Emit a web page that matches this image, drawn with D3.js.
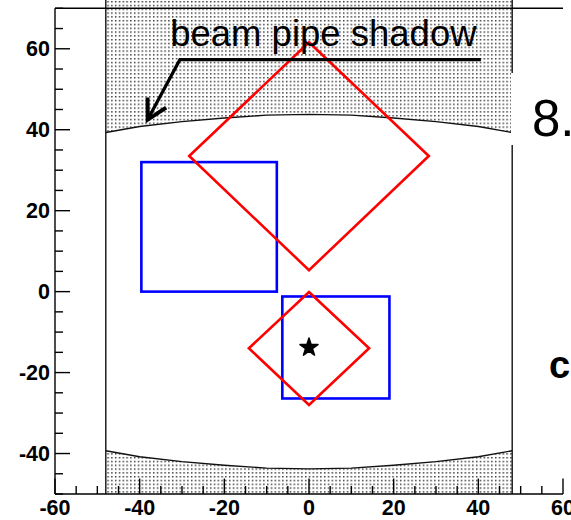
<!DOCTYPE html>
<html>
<head>
<meta charset="utf-8">
<script src="https://cdn.jsdelivr.net/npm/d3@7"></script>
<style>
  body { margin: 0; background: #fff; }
  svg { display: block; }
</style>
</head>
<body>
<svg id="chart" width="571" height="520"></svg>
<script>
// axis ticks and labels
var xLabels = [-60, -40, -20, 0, 20, 40, 60];
var yLabels = [-40, -20, 0, 20, 40, 60];

// beam pipe shadow outline
var shadowX = [-48, -40, -30, -20, -10, 0, 10, 20, 30, 40, 48];
var shadowTopY = [39.3, 40.8, 42.0, 42.9, 43.6, 43.8, 43.6, 42.9, 42.0, 40.8, 39.3];
var shadowBottomY = [-39.3, -40.8, -42.0, -42.9, -43.6, -43.8, -43.6, -42.9, -42.0, -40.8, -39.3];
var pipeEdges = [-48, 48];

// blue boxes: [x0, x1, y0, y1]
var blueBoxes = [[-39.6, -7.6, 0, 32], [-6.3, 19, -26.4, -1.2]];

// red diamonds: vertices
var redDiamonds = [
    [[0, 61.6], [28.3, 33.5], [0, 5.3], [-28.3, 33.5]],
    [[0, -0.1], [14.2, -14], [0, -28], [-14.2, -14]]
];

// star marker
var starPoint = [0, -13.8];

// annotation: text anchor, underline, arrow tip (data units)
var labelPos = [-32.8, 60.6];
var underline = [[40.6, 57.3], [-30.5, 57.3], [-38.1, 42.5]];

var svg = d3.select("#chart");

// scales
var x = d3.scaleLinear().domain([-60, 60]).range([55, 563]);
var y = d3.scaleLinear().domain([-50, 70]).range([494, 8.3]);

// dotted pattern for shadow
var defs = svg.append("defs");
var pat = defs.append("pattern")
    .attr("id", "dots")
    .attr("patternUnits", "userSpaceOnUse")
    .attr("width", 3.8)
    .attr("height", 3.8);
pat.append("rect").attr("x", 1).attr("y", 1).attr("width", 1.4).attr("height", 1.4).attr("fill", "#222");

// shadow regions
var topArea = d3.area()
    .x(function (d, i) { return x(shadowX[i]); })
    .y0(0)
    .y1(function (d) { return y(d); });
var bottomArea = d3.area()
    .x(function (d, i) { return x(shadowX[i]); })
    .y0(y(-50))
    .y1(function (d) { return y(d); });

svg.append("path").datum(shadowTopY).attr("d", topArea).attr("fill", "url(#dots)");
svg.append("path").datum(shadowBottomY).attr("d", bottomArea).attr("fill", "url(#dots)");

var edgeLine = d3.line()
    .x(function (d, i) { return x(shadowX[i]); })
    .y(function (d) { return y(d); });
svg.append("path").datum(shadowTopY).attr("d", edgeLine)
    .attr("fill", "none").attr("stroke", "#111").attr("stroke-width", 1.4);
svg.append("path").datum(shadowBottomY).attr("d", edgeLine)
    .attr("fill", "none").attr("stroke", "#111").attr("stroke-width", 1.4);

// pipe edges
svg.selectAll(".edge").data(pipeEdges).enter().append("line")
    .attr("class", "edge")
    .attr("x1", function (d) { return x(d); })
    .attr("x2", function (d) { return x(d); })
    .attr("y1", 0)
    .attr("y2", y(-50))
    .attr("stroke", "#111")
    .attr("stroke-width", 1.4);

// frame: left, top, bottom
var frame = svg.append("g").attr("stroke", "#000").attr("stroke-width", 1.4);
frame.append("line").attr("x1", x(-60)).attr("x2", x(-60)).attr("y1", y(70)).attr("y2", y(-50));
frame.append("line").attr("x1", x(-60)).attr("x2", x(60)).attr("y1", y(70)).attr("y2", y(70));
frame.append("line").attr("x1", x(-60)).attr("x2", x(60)).attr("y1", y(-50)).attr("y2", y(-50));

// ticks (pointing inward)
var xTicks = d3.range(-60, 61, 5);
var yTicks = d3.range(-50, 71, 5);
svg.append("g").selectAll("line").data(xTicks).enter().append("line")
    .attr("x1", function (d) { return x(d); })
    .attr("x2", function (d) { return x(d); })
    .attr("y1", y(-50))
    .attr("y2", function (d) { return y(-50) - (d % 20 === 0 ? 15.5 : 8); })
    .attr("stroke", "#000").attr("stroke-width", 1.4);
svg.append("g").selectAll("line").data(yTicks).enter().append("line")
    .attr("y1", function (d) { return y(d); })
    .attr("y2", function (d) { return y(d); })
    .attr("x1", x(-60))
    .attr("x2", function (d) { return x(-60) + (d % 20 === 0 ? 15 : 8); })
    .attr("stroke", "#000").attr("stroke-width", 1.4);

// tick labels
svg.append("g").selectAll("text").data(xLabels).enter().append("text")
    .attr("x", function (d) { return x(d); })
    .attr("y", 515)
    .attr("text-anchor", "middle")
    .attr("font-family", "Liberation Sans, Arial, sans-serif")
    .attr("font-weight", "bold")
    .attr("font-size", 21.5)
    .text(function (d) { return d; });
svg.append("g").selectAll("text").data(yLabels).enter().append("text")
    .attr("x", 50)
    .attr("y", function (d) { return y(d) + 7.5; })
    .attr("text-anchor", "end")
    .attr("font-family", "Liberation Sans, Arial, sans-serif")
    .attr("font-weight", "bold")
    .attr("font-size", 21.5)
    .text(function (d) { return d; });

// blue boxes
svg.append("g").selectAll("rect").data(blueBoxes).enter().append("rect")
    .attr("x", function (d) { return x(d[0]); })
    .attr("y", function (d) { return y(d[3]); })
    .attr("width", function (d) { return x(d[1]) - x(d[0]); })
    .attr("height", function (d) { return y(d[2]) - y(d[3]); })
    .attr("fill", "none")
    .attr("stroke", "#0000ff")
    .attr("stroke-width", 2.6);

// red diamonds
var poly = d3.line().x(function (d) { return x(d[0]); }).y(function (d) { return y(d[1]); }).curve(d3.curveLinearClosed);
svg.append("g").selectAll("path").data(redDiamonds).enter().append("path")
    .attr("d", poly)
    .attr("fill", "none")
    .attr("stroke", "#ff0000")
    .attr("stroke-width", 2.6);

// star
svg.append("path")
    .attr("d", d3.symbol().type(d3.symbolStar).size(100))
    .attr("transform", "translate(" + x(starPoint[0]) + "," + y(starPoint[1]) + ")")
    .attr("fill", "#000")
    .attr("stroke", "#000")
    .attr("stroke-width", 1.5)
    .attr("stroke-linejoin", "round");

// annotation
svg.append("text")
    .attr("x", x(labelPos[0]))
    .attr("y", y(labelPos[1]))
    .attr("font-family", "Liberation Sans, Arial, sans-serif")
    .attr("font-size", 36.5)
    .attr("fill", "#000")
    .text("beam pipe shadow");

svg.append("path")
    .attr("d", d3.line().x(function (d) { return x(d[0]); }).y(function (d) { return y(d[1]); })(underline))
    .attr("fill", "none")
    .attr("stroke", "#000")
    .attr("stroke-width", 3.2);

// arrow head
var tip = underline[2], prev = underline[1];
var tx = x(tip[0]), ty = y(tip[1]);
var ang = Math.atan2(ty - y(prev[1]), tx - x(prev[0]));
var barb = 22, spread = 0.5;
var head = [
    [tx - barb * Math.cos(ang - spread), ty - barb * Math.sin(ang - spread)],
    [tx, ty],
    [tx - barb * Math.cos(ang + spread), ty - barb * Math.sin(ang + spread)]
];
svg.append("path")
    .attr("d", d3.line()(head))
    .attr("fill", "none")
    .attr("stroke", "#000")
    .attr("stroke-width", 4)
    .attr("stroke-linejoin", "miter");

// partial text on the right edge
svg.append("rect").attr("x", 511).attr("y", 73).attr("width", 60).attr("height", 72).attr("fill", "#fff");
svg.append("text")
    .attr("x", 532)
    .attr("y", 136)
    .attr("font-family", "Liberation Sans, Arial, sans-serif")
    .attr("font-size", 51)
    .text("8.");
svg.append("text")
    .attr("x", 549)
    .attr("y", 378)
    .attr("font-family", "Liberation Sans, Arial, sans-serif")
    .attr("font-weight", "bold")
    .attr("font-size", 38)
    .text("c");
</script>
</body>
</html>
